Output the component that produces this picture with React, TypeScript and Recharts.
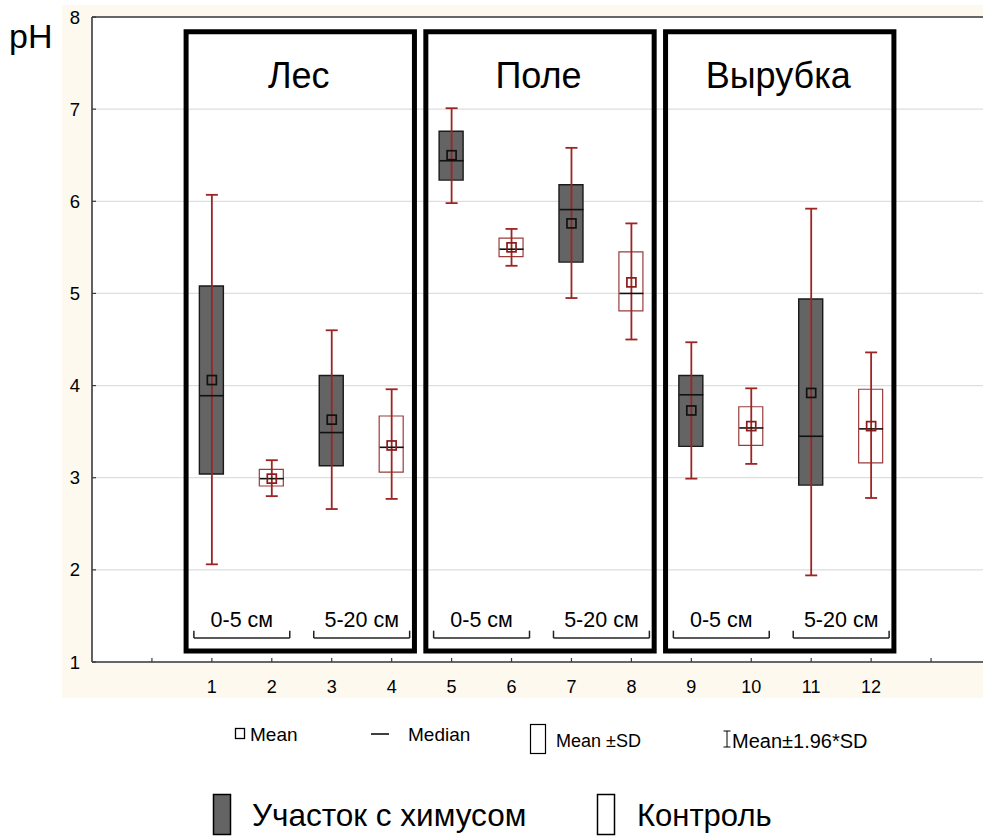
import React from 'react';
import {
  ComposedChart,
  XAxis,
  YAxis,
  CartesianGrid,
  Bar,
  Cell,
  Scatter,
  ErrorBar,
  ReferenceArea,
  ReferenceLine,
} from 'recharts';

// ---- data ----
const positions = [1, 2, 3, 4, 5, 6, 7, 8, 9, 10, 11, 12];
const siteKinds = ['chem', 'ctrl', 'chem', 'ctrl', 'chem', 'ctrl', 'chem', 'ctrl', 'chem', 'ctrl', 'chem', 'ctrl'];
const whiskerLow = [2.06, 2.80, 2.66, 2.77, 5.98, 5.30, 4.95, 4.50, 2.99, 3.15, 1.94, 2.78];
const whiskerHigh = [6.07, 3.19, 4.60, 3.96, 7.01, 5.70, 6.58, 5.76, 4.47, 3.97, 5.92, 4.36];
const boxLow = [3.04, 2.91, 3.13, 3.06, 6.23, 5.40, 5.34, 4.81, 3.34, 3.35, 2.92, 3.16];
const boxHigh = [5.08, 3.09, 4.11, 3.67, 6.76, 5.60, 6.18, 5.45, 4.11, 3.77, 4.94, 3.96];
const medians = [3.89, 2.99, 3.49, 3.33, 6.44, 5.48, 5.91, 5.00, 3.90, 3.54, 3.45, 3.53];
const means = [4.06, 2.99, 3.63, 3.35, 6.50, 5.50, 5.76, 5.12, 3.73, 3.56, 3.92, 3.56];

const groupTitles = ['Лес', 'Поле', 'Вырубка'];
const groupStarts = [1, 5, 9];
const depthLabels = ['0-5 см', '5-20 см'];
const xTicks = [0, 1, 2, 3, 4, 5, 6, 7, 8, 9, 10, 11, 12, 13];
const yTicks = [1, 2, 3, 4, 5, 6, 7, 8];

// ---- derived tables ----
const rows = positions.map((x, i) => ({
  x,
  kind: siteKinds[i],
  box: [boxLow[i], boxHigh[i]],
  mean: means[i],
  median: medians[i],
  whisker: [means[i] - whiskerLow[i], whiskerHigh[i] - means[i]],
}));

// layout constants (data coordinates)
const FRAME_BOTTOM = 1.12;
const FRAME_TOP = 7.84;
const TITLE_Y = 7.37;
const DEPTH_TEXT_Y = 1.455;
const BRACKET_Y = 1.26;
const BRACKET_TOP = 1.34;
const BRACKET_HALF = 0.8;

const titleRows = groupTitles.map((t, i) => ({ x: groupStarts[i] + 1.45, y: TITLE_Y, label: t }));
const depthRows = groupStarts.flatMap((s) =>
  depthLabels.map((d, j) => ({ x: s + 0.5 + 2 * j, y: DEPTH_TEXT_Y, label: d }))
);
const bracketCenters = depthRows.map((r) => r.x);

const FONT = '"Liberation Sans", Arial, Helvetica, sans-serif';
const RED = '#9E2424';
const CTRL_STROKE = '#9A3C3C';
const DARK = '#646464';
const AXIS = '#3a3a3a';

const MedianShape = (props: any) => {
  const { cx, cy } = props;
  if (cx == null || cy == null) return <g />;
  return <line x1={cx - 12} x2={cx + 12} y1={cy} y2={cy} stroke="#111" strokeWidth={1.6} />;
};

const MeanShape = (props: any) => {
  const { cx, cy, payload } = props;
  if (cx == null || cy == null) return <g />;
  const stroke = payload.kind === 'chem' ? '#111' : '#8B1A1A';
  return <rect x={cx - 4.5} y={cy - 4.5} width={9} height={9} fill="none" stroke={stroke} strokeWidth={1.7} />;
};

const TitleShape = (props: any) => {
  const { cx, cy, payload } = props;
  return (
    <text x={cx} y={cy} textAnchor="middle" dominantBaseline="central" fontSize={36} fontFamily={FONT} fill="#000">
      {payload.label}
    </text>
  );
};

const DepthShape = (props: any) => {
  const { cx, cy, payload } = props;
  return (
    <text x={cx} y={cy} textAnchor="middle" dominantBaseline="central" fontSize={21.5} fontFamily={FONT} fill="#000">
      {payload.label}
    </text>
  );
};

const NoShape = () => <g />;

export default function App() {
  return (
    <div style={{ position: 'absolute', left: 0, top: 0, width: 983, height: 839, overflow: 'hidden', background: '#fff' }}>
      <div style={{ position: 'absolute', left: 62, top: 5, width: 921, height: 693, background: '#FDF9EE' }} />
      <div style={{ position: 'absolute', left: 0, top: 0 }}>
        <ComposedChart
          width={991}
          height={700}
          data={rows}
          margin={{ top: 16, right: 0, bottom: 0, left: 0 }}
        >
          <CartesianGrid vertical={false} stroke="#dedede" strokeWidth={1.2} fill="#ffffff" />
          <XAxis
            dataKey="x"
            type="number"
            domain={[-1, 14]}
            ticks={xTicks}
            allowDataOverflow
            height={38}
            tickSize={-4}
            tickMargin={22}
            tickFormatter={(v: number) => (v >= 1 && v <= 12 ? String(v) : '')}
            axisLine={{ stroke: AXIS, strokeWidth: 1.6 }}
            tickLine={{ stroke: AXIS, strokeWidth: 1.2 }}
            tick={{ fontSize: 18, fill: '#000', fontFamily: FONT }}
          />
          <XAxis
            xAxisId="top"
            orientation="top"
            type="number"
            domain={[-1, 14]}
            ticks={xTicks}
            allowDataOverflow
            height={1}
            tickSize={-4}
            tick={false}
            axisLine={{ stroke: AXIS, strokeWidth: 1.6 }}
            tickLine={{ stroke: AXIS, strokeWidth: 1.2 }}
          />
          <YAxis
            type="number"
            domain={[1, 8]}
            ticks={yTicks}
            allowDataOverflow
            width={92}
            tickSize={-4}
            tickMargin={16}
            axisLine={{ stroke: AXIS, strokeWidth: 1.6 }}
            tickLine={{ stroke: AXIS, strokeWidth: 1.2 }}
            tick={{ fontSize: 18.5, fill: '#000', fontFamily: FONT }}
          />

          {groupStarts.map((s) => (
            <ReferenceArea
              key={'f' + s}
              x1={s - 0.43}
              x2={s + 3.38}
              y1={FRAME_BOTTOM}
              y2={FRAME_TOP}
              fill="none"
              fillOpacity={0}
              stroke="#000"
              strokeWidth={5}
              ifOverflow="visible"
            />
          ))}

          {bracketCenters.map((c) => (
            <ReferenceLine
              key={'bh' + c}
              segment={[
                { x: c - BRACKET_HALF, y: BRACKET_Y },
                { x: c + BRACKET_HALF, y: BRACKET_Y },
              ]}
              stroke="#222"
              strokeWidth={1.5}
              ifOverflow="visible"
            />
          ))}
          {bracketCenters.map((c) => (
            <ReferenceLine
              key={'bl' + c}
              segment={[
                { x: c - BRACKET_HALF, y: BRACKET_Y },
                { x: c - BRACKET_HALF, y: BRACKET_TOP },
              ]}
              stroke="#222"
              strokeWidth={1.5}
              ifOverflow="visible"
            />
          ))}
          {bracketCenters.map((c) => (
            <ReferenceLine
              key={'br' + c}
              segment={[
                { x: c + BRACKET_HALF, y: BRACKET_Y },
                { x: c + BRACKET_HALF, y: BRACKET_TOP },
              ]}
              stroke="#222"
              strokeWidth={1.5}
              ifOverflow="visible"
            />
          ))}

          <Scatter dataKey="mean" shape={NoShape} isAnimationActive={false}>
            <ErrorBar dataKey="whisker" direction="y" width={6} stroke={RED} strokeWidth={1.8} />
          </Scatter>

          <Bar dataKey="box" barSize={24} isAnimationActive={false}>
            {rows.map((r) => (
              <Cell
                key={'c' + r.x}
                fill={r.kind === 'chem' ? DARK : '#ffffff'}
                stroke={r.kind === 'chem' ? '#1a1a1a' : CTRL_STROKE}
                strokeWidth={r.kind === 'chem' ? 1.4 : 1.2}
              />
            ))}
          </Bar>

          <Scatter dataKey="median" shape={MedianShape} isAnimationActive={false} />
          <Scatter dataKey="mean" shape={MeanShape} isAnimationActive={false} />

          <Scatter data={titleRows} dataKey="y" shape={TitleShape} isAnimationActive={false} />
          <Scatter data={depthRows} dataKey="y" shape={DepthShape} isAnimationActive={false} />
        </ComposedChart>
      </div>

      <svg
        width={983}
        height={839}
        style={{ position: 'absolute', left: 0, top: 0, pointerEvents: 'none' }}
        fontFamily={FONT}
      >
        <text x={9} y={36} fontSize={34} dominantBaseline="central" fill="#000">pH</text>

        <rect x={235.5} y={728.5} width={9} height={10} fill="none" stroke="#000" strokeWidth={1.3} />
        <text x={250} y={734} fontSize={19} dominantBaseline="central">Mean</text>

        <line x1={371} x2={389} y1={734} y2={734} stroke="#000" strokeWidth={1.5} />
        <text x={408} y={734} fontSize={19} dominantBaseline="central">Median</text>

        <rect x={530.5} y={724.5} width={15} height={29} fill="#fff" stroke="#000" strokeWidth={1.2} />
        <text x={556} y={741} fontSize={18} dominantBaseline="central">Mean ±SD</text>

        <line x1={727} x2={727} y1={731} y2={747} stroke="#000" strokeWidth={1} />
        <line x1={723.5} x2={730.5} y1={731} y2={731} stroke="#000" strokeWidth={1} />
        <line x1={723.5} x2={730.5} y1={747} y2={747} stroke="#000" strokeWidth={1} />
        <text x={732} y={741} fontSize={20} dominantBaseline="central">Mean±1.96*SD</text>

        <rect x={213.5} y={794.5} width={17} height={40} fill={DARK} stroke="#000" strokeWidth={1.5} />
        <text x={252} y={815} fontSize={31.5} dominantBaseline="central">Участок с химусом</text>

        <rect x={597.5} y={794.5} width={17} height={40} fill="#fff" stroke="#000" strokeWidth={1.5} />
        <text x={637} y={815} fontSize={31} dominantBaseline="central">Контроль</text>
      </svg>
    </div>
  );
}
